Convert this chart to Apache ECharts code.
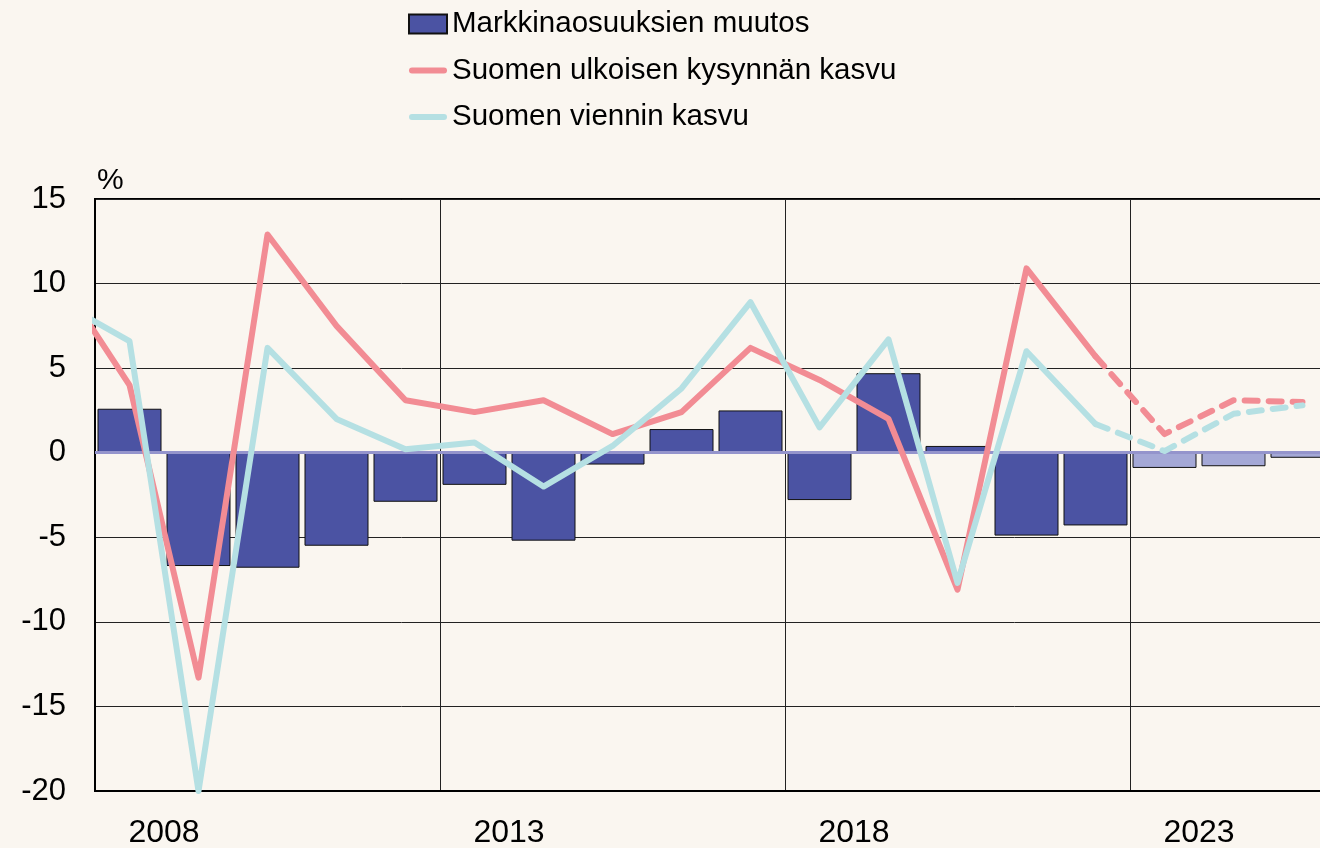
<!DOCTYPE html>
<html>
<head>
<meta charset="utf-8">
<script src="https://cdn.jsdelivr.net/npm/echarts@6/dist/echarts.min.js"></script>
<style>
html,body{margin:0;padding:0;background:#faf6f0;overflow:hidden;}
#chart{width:1320px;height:848px;}
</style>
</head>
<body>
<div id="chart"></div>
<script>
// Data (2007 point lies just outside the visible plot; its segment is clipped)
var years = ['2007','2008','2009','2010','2011','2012','2013','2014','2015','2016','2017','2018','2019','2020','2021','2022','2023','2024','2025'];
var labelYears = ['2008','2013','2018','2023'];
var gridYears = ['2013','2018','2023'];
var marketShare   = [null, 2.6, -6.7, -6.8, -5.5, -2.9, -1.9, -5.2, -0.7, 1.4, 2.5, -2.8, 4.7, 0.4, -4.9, -4.3, -0.9, -0.8, -0.3];
var foreignDemand = [10.2, 4.0, -13.3, 12.9, 7.5, 3.1, 2.4, 3.1, 1.1, 2.4, 6.2, 4.3, 2.0, -8.1, 10.9, 5.7, 1.1, 3.1, 3.0];
var exportsGrowth = [8.9, 6.6, -20.0, 6.2, 2.0, 0.2, 0.6, -2.0, 0.4, 3.8, 8.9, 1.5, 6.7, -7.7, 6.0, 1.7, 0.1, 2.3, 2.8];
var forecastStart = '2023';   // first forecast year (lighter bars)
var dashStart = '2022';       // lines dashed from this year on
var seriesNames = ['Markkinaosuuksien muutos', 'Suomen ulkoisen kysynnän kasvu', 'Suomen viennin kasvu'];

var FONT = '"Liberation Sans", Arial, sans-serif';
var fIdx = years.indexOf(forecastStart);
var dIdx = years.indexOf(dashStart);

var barData = marketShare.map(function (v, i) {
  if (i >= fIdx) return { value: v, itemStyle: { color: '#a4a8d6' } };
  return v;
});
function solidPart(arr) { return arr.map(function (v, i) { return i <= dIdx ? v : null; }); }
function dashPart(arr) { return arr.map(function (v, i) { return i >= dIdx ? v : null; }); }

var RED = '#f28c94', CYAN = '#b5e0e3';
var LINE_ICON = 'path://M3,0 L35,0 A3,3 0 0 1 35,6 L3,6 A3,3 0 0 1 3,0 Z';

var chart = echarts.init(document.getElementById('chart'), null, { renderer: 'canvas' });
chart.setOption({
  backgroundColor: '#faf6f0',
  animation: false,
  textStyle: { fontFamily: FONT },
  legend: {
    orient: 'vertical',
    left: 408,
    top: 9,
    padding: 0,
    itemWidth: 38,
    itemHeight: 19,
    itemGap: 16.5,
    data: [
      { name: seriesNames[0], icon: 'rect' },
      { name: seriesNames[1], icon: LINE_ICON, itemStyle: { color: RED, borderWidth: 0 } },
      { name: seriesNames[2], icon: LINE_ICON, itemStyle: { color: CYAN, borderWidth: 0 } }
    ],
    textStyle: { fontFamily: FONT, fontSize: 29.5, color: '#000', lineHeight: 30 }
  },
  grid: {
    left: 95, top: 199, bottom: 57, width: 1242,
    outerBoundsMode: 'none',
    containLabel: false,
    show: true, borderColor: '#000', borderWidth: 2, backgroundColor: 'transparent'
  },
  xAxis: {
    type: 'category',
    data: years,
    min: 1,
    boundaryGap: true,
    axisLine: { show: true, onZero: false, lineStyle: { color: '#000', width: 2 } },
    axisTick: { show: false },
    axisLabel: {
      interval: function (idx, val) { return labelYears.indexOf(val) >= 0; },
      fontSize: 32, color: '#000', fontFamily: FONT,
      margin: 26,
      padding: [0, 0, 0, 69]
    },
    splitLine: {
      show: true,
      interval: function (idx, val) { return gridYears.indexOf(val) >= 0; },
      lineStyle: { color: '#222', width: 1 }
    }
  },
  yAxis: {
    type: 'value',
    min: -20, max: 15, interval: 5,
    name: '%',
    nameLocation: 'end',
    nameGap: 3,
    nameTextStyle: { fontSize: 30, color: '#000', align: 'left', verticalAlign: 'bottom', fontFamily: FONT, padding: [0, 0, 0, 2] },
    axisLine: { show: true, lineStyle: { color: '#000', width: 2 } },
    axisTick: { show: false },
    axisLabel: { fontSize: 31, color: '#000', margin: 29, fontFamily: FONT },
    splitLine: { show: true, lineStyle: { color: '#222', width: 1 } }
  },
  series: [
    {
      name: seriesNames[0],
      type: 'bar',
      data: barData,
      barWidth: 64,
      itemStyle: { color: '#4b53a3', borderColor: '#111', borderWidth: 1 },
      z: 2,
      markLine: {
        silent: true,
        symbol: 'none',
        label: { show: false },
        lineStyle: { color: '#9494cc', width: 3, type: 'solid' },
        data: [{ yAxis: 0 }],
        z: 3
      }
    },
    {
      name: seriesNames[1],
      type: 'line',
      data: solidPart(foreignDemand),
      symbol: 'none',
      lineStyle: { color: RED, width: 6, cap: 'round', join: 'round' },
      itemStyle: { color: RED },
      z: 10
    },
    {
      name: seriesNames[2],
      type: 'line',
      data: solidPart(exportsGrowth),
      symbol: 'none',
      lineStyle: { color: CYAN, width: 6, cap: 'round', join: 'round' },
      itemStyle: { color: CYAN },
      z: 11
    },
    {
      name: seriesNames[1] + ' (ennuste)',
      type: 'line',
      data: dashPart(foreignDemand),
      symbol: 'none',
      lineStyle: { color: RED, width: 6, type: [13, 11], cap: 'round', join: 'round' },
      z: 10
    },
    {
      name: seriesNames[2] + ' (ennuste)',
      type: 'line',
      data: dashPart(exportsGrowth),
      symbol: 'none',
      lineStyle: { color: CYAN, width: 6, type: [13, 11], cap: 'round', join: 'round' },
      z: 11
    }
  ]
});
</script>
</body>
</html>
